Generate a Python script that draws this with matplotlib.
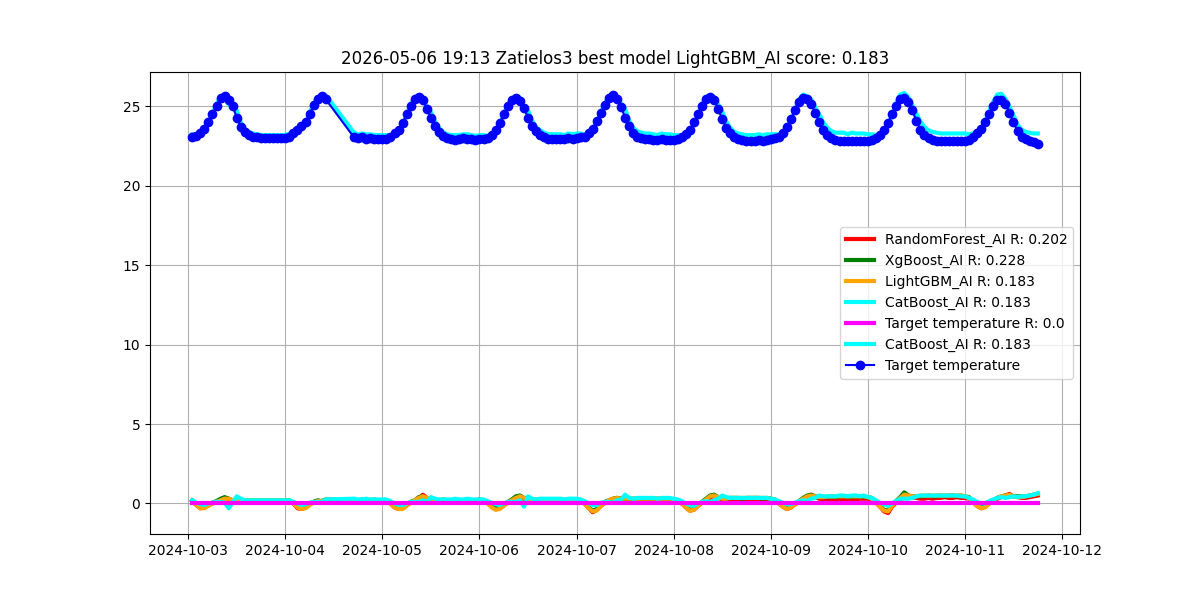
import matplotlib
matplotlib.use("Agg")
import matplotlib.pyplot as plt
import matplotlib.dates as mdates
import numpy as np
import pandas as pd

title = "2026-05-06 19:13 Zatielos3 best model LightGBM_AI score: 0.183"
seg1 = ("2024-10-03 01:00", "2024-10-04 10:00")
seg2 = ("2024-10-04 17:00", "2024-10-11 18:00")

model_names = ["RandomForest_AI", "XgBoost_AI", "LightGBM_AI", "CatBoost_AI"]
model_scores = [0.202, 0.228, 0.183, 0.183]
model_colors = ["red", "green", "orange", "cyan"]

# hourly target temperature
target = [
    23.05, 23.15, 23.35, 23.6, 24.0, 24.5, 25.05, 25.55, 25.65, 25.4, 25.0, 24.3, 23.7, 23.4, 23.2, 23.1, 23.05, 23.0, 23.0, 23.0, 23.0, 23.0, 23.0,
    23.0, 23.1, 23.3, 23.5, 23.75, 24.05, 24.5, 25.1, 25.45, 25.65, 25.45,
    23.05, 23.0, 23.05, 22.95, 23.0, 22.95, 22.95,
    22.95, 22.95, 23.05, 23.3, 23.55, 23.95, 24.5, 25.05, 25.45, 25.6, 25.4, 24.85, 24.25, 23.75, 23.4, 23.15, 23.0, 22.95, 22.9, 22.95, 23.0, 22.95, 22.95, 22.9,
    22.95, 22.95, 23.0, 23.2, 23.5, 23.95, 24.5, 25.0, 25.4, 25.55, 25.35, 24.9, 24.3, 23.8, 23.45, 23.2, 23.05, 22.95, 22.95, 22.95, 22.95, 22.95, 23.0, 22.95,
    23.0, 23.05, 23.1, 23.3, 23.6, 24.1, 24.6, 25.1, 25.55, 25.7, 25.45, 24.95, 24.3, 23.75, 23.35, 23.1, 23.0, 22.95, 22.95, 22.9, 22.9, 22.95, 22.9, 22.9,
    22.9, 22.95, 23.05, 23.25, 23.55, 24.0, 24.5, 25.05, 25.45, 25.6, 25.4, 24.85, 24.2, 23.65, 23.3, 23.05, 22.95, 22.9, 22.85, 22.85, 22.85, 22.9, 22.85, 22.9,
    22.95, 23.0, 23.1, 23.35, 23.7, 24.2, 24.75, 25.3, 25.55, 25.5, 25.15, 24.6, 24.0, 23.55, 23.2, 23.0, 22.9, 22.85, 22.85, 22.8, 22.85, 22.8, 22.85, 22.8,
    22.85, 22.9, 23.0, 23.2, 23.5, 23.95, 24.5, 25.05, 25.45, 25.55, 25.3, 24.75, 24.1, 23.55, 23.2, 23.0, 22.9, 22.85, 22.8, 22.8, 22.8, 22.8, 22.8, 22.85,
    22.85, 22.9, 23.05, 23.3, 23.6, 24.05, 24.55, 25.05, 25.4, 25.4, 25.15, 24.6, 24.0, 23.45, 23.1, 22.95, 22.85, 22.75, 22.65,
]

# prediction minus target for each model
err_rf = [
    0.15, -0.1, -0.3, -0.25, -0.1, 0.0, 0.1, 0.2, 0.35, 0.3, 0.15, 0.1, 0.1, 0.15, 0.15, 0.15, 0.15, 0.2, 0.15, 0.15, 0.15, 0.15, 0.15,
    0.15, 0.15, 0.0, -0.3, -0.35, -0.25, -0.05, 0.1, 0.15, 0.1, 0.2,
    0.15, 0.15, 0.2, 0.2, 0.15, 0.2, 0.2,
    0.2, 0.15, 0.0, -0.25, -0.35, -0.3, -0.1, 0.05, 0.15, 0.3, 0.55, 0.35, 0.2, 0.15, 0.15, 0.2, 0.2, 0.15, 0.2, 0.2, 0.2, 0.15, 0.2, 0.2,
    0.2, 0.2, 0.05, -0.2, -0.35, -0.3, -0.1, 0.05, 0.15, 0.3, 0.4, 0.3, 0.2, 0.15, 0.2, 0.2, 0.2, 0.2, 0.2, 0.2, 0.2, 0.15, 0.2, 0.2,
    0.2, 0.15, 0.0, -0.3, -0.55, -0.4, -0.15, 0.05, 0.15, 0.25, 0.35, 0.3, 0.2, 0.2, 0.2, 0.2, 0.2, 0.25, 0.2, 0.2, 0.25, 0.2, 0.2, 0.2,
    0.2, 0.2, 0.0, -0.25, -0.45, -0.4, -0.15, 0.05, 0.2, 0.35, 0.5, 0.35, 0.25, 0.25, 0.25, 0.25, 0.3, 0.25, 0.25, 0.3, 0.25, 0.3, 0.25, 0.25,
    0.25, 0.2, 0.0, -0.2, -0.35, -0.25, -0.05, 0.1, 0.25, 0.45, 0.55, 0.4, 0.3, 0.25, 0.25, 0.25, 0.25, 0.3, 0.25, 0.25, 0.3, 0.25, 0.3, 0.3,
    0.3, 0.25, 0.05, -0.2, -0.5, -0.6, -0.2, 0.05, 0.25, 0.4, 0.5, 0.4, 0.35, 0.3, 0.3, 0.35, 0.3, 0.35, 0.35, 0.4, 0.35, 0.35, 0.4, 0.35,
    0.35, 0.3, 0.1, -0.15, -0.3, -0.2, 0.0, 0.15, 0.3, 0.4, 0.5, 0.6, 0.45, 0.4, 0.35, 0.35, 0.4, 0.45, 0.5,
]
err_xgb = [
    0.2, 0.0, -0.2, -0.2, -0.05, 0.05, 0.15, 0.3, 0.4, 0.3, 0.2, 0.15, 0.15, 0.2, 0.2, 0.2, 0.2, 0.2, 0.2, 0.2, 0.2, 0.2, 0.2,
    0.2, 0.2, 0.05, -0.2, -0.3, -0.2, 0.0, 0.1, 0.2, 0.15, 0.25,
    0.2, 0.2, 0.25, 0.2, 0.2, 0.25, 0.2,
    0.2, 0.2, 0.05, -0.2, -0.3, -0.25, -0.05, 0.1, 0.2, 0.4, 0.45, 0.3, 0.2, 0.2, 0.2, 0.25, 0.2, 0.2, 0.25, 0.2, 0.2, 0.25, 0.2, 0.2,
    0.25, 0.2, 0.05, -0.15, -0.3, -0.25, -0.05, 0.1, 0.25, 0.45, 0.5, 0.35, 0.25, 0.2, 0.25, 0.25, 0.25, 0.25, 0.25, 0.25, 0.25, 0.2, 0.25, 0.25,
    0.25, 0.2, 0.05, -0.25, -0.45, -0.35, -0.1, 0.1, 0.2, 0.3, 0.35, 0.3, 0.25, 0.25, 0.3, 0.3, 0.3, 0.3, 0.3, 0.3, 0.3, 0.3, 0.3, 0.3,
    0.25, 0.2, 0.05, -0.2, -0.4, -0.35, -0.1, 0.1, 0.3, 0.5, 0.55, 0.4, 0.3, 0.3, 0.35, 0.35, 0.35, 0.3, 0.35, 0.35, 0.35, 0.35, 0.3, 0.35,
    0.3, 0.25, 0.05, -0.15, -0.3, -0.2, 0.0, 0.15, 0.35, 0.5, 0.55, 0.45, 0.4, 0.4, 0.4, 0.45, 0.4, 0.45, 0.45, 0.45, 0.4, 0.45, 0.45, 0.4,
    0.4, 0.35, 0.1, -0.15, -0.4, -0.45, -0.1, 0.15, 0.4, 0.7, 0.5, 0.45, 0.45, 0.45, 0.45, 0.5, 0.45, 0.45, 0.5, 0.45, 0.5, 0.5, 0.45, 0.5,
    0.45, 0.4, 0.15, -0.1, -0.25, -0.15, 0.05, 0.2, 0.35, 0.45, 0.5, 0.5, 0.45, 0.45, 0.45, 0.45, 0.5, 0.55, 0.6,
]
err_lgbm = [
    0.15, -0.1, -0.3, -0.3, -0.15, 0.0, 0.1, 0.2, 0.3, 0.3, 0.2, 0.15, 0.15, 0.2, 0.2, 0.2, 0.2, 0.2, 0.2, 0.2, 0.2, 0.2, 0.2,
    0.2, 0.15, 0.0, -0.25, -0.35, -0.3, -0.1, 0.05, 0.15, 0.15, 0.2,
    0.2, 0.2, 0.2, 0.2, 0.2, 0.2, 0.2,
    0.2, 0.15, 0.0, -0.25, -0.35, -0.35, -0.15, 0.05, 0.2, 0.35, 0.45, 0.35, 0.2, 0.2, 0.2, 0.2, 0.2, 0.2, 0.2, 0.2, 0.2, 0.2, 0.2, 0.2,
    0.2, 0.2, 0.0, -0.25, -0.4, -0.35, -0.15, 0.05, 0.2, 0.35, 0.45, 0.35, 0.25, 0.2, 0.25, 0.25, 0.25, 0.25, 0.25, 0.25, 0.25, 0.25, 0.25, 0.25,
    0.25, 0.2, 0.0, -0.3, -0.5, -0.45, -0.15, 0.05, 0.2, 0.3, 0.35, 0.3, 0.3, 0.3, 0.3, 0.3, 0.3, 0.3, 0.3, 0.3, 0.3, 0.3, 0.3, 0.3,
    0.25, 0.2, 0.0, -0.25, -0.45, -0.4, -0.15, 0.05, 0.25, 0.45, 0.5, 0.4, 0.3, 0.3, 0.35, 0.35, 0.35, 0.35, 0.35, 0.35, 0.35, 0.35, 0.35, 0.35,
    0.3, 0.25, 0.0, -0.2, -0.35, -0.25, -0.05, 0.15, 0.3, 0.45, 0.5, 0.45, 0.4, 0.4, 0.45, 0.45, 0.45, 0.45, 0.45, 0.45, 0.45, 0.45, 0.45, 0.45,
    0.4, 0.3, 0.05, -0.2, -0.45, -0.5, -0.15, 0.1, 0.35, 0.55, 0.5, 0.45, 0.45, 0.5, 0.5, 0.5, 0.5, 0.5, 0.5, 0.5, 0.5, 0.5, 0.5, 0.5,
    0.45, 0.35, 0.1, -0.15, -0.3, -0.25, 0.0, 0.2, 0.35, 0.45, 0.5, 0.55, 0.45, 0.4, 0.4, 0.45, 0.5, 0.55, 0.6,
]
err_cat = [
    0.2, 0.05, -0.05, -0.1, 0.0, 0.05, 0.1, 0.1, 0.05, -0.3, 0.05, 0.45, 0.3, 0.2, 0.2, 0.2, 0.2, 0.2, 0.2, 0.2, 0.2, 0.2, 0.2,
    0.2, 0.2, 0.1, 0.0, -0.1, -0.05, 0.05, 0.1, 0.1, 0.1, 0.25,
    0.3, 0.25, 0.25, 0.3, 0.25, 0.25, 0.25,
    0.25, 0.25, 0.15, 0.0, -0.1, -0.1, 0.0, 0.1, 0.1, 0.1, 0.2, 0.1, 0.4, 0.3, 0.25, 0.25, 0.25, 0.25, 0.3, 0.25, 0.25, 0.3, 0.25, 0.25,
    0.25, 0.25, 0.15, 0.05, -0.05, -0.1, 0.0, 0.1, 0.1, 0.1, 0.2, -0.2, 0.45, 0.3, 0.25, 0.3, 0.3, 0.3, 0.3, 0.3, 0.3, 0.25, 0.3, 0.3,
    0.3, 0.25, 0.15, 0.0, -0.1, -0.1, 0.05, 0.1, 0.1, 0.05, 0.2, 0.25, 0.55, 0.35, 0.3, 0.35, 0.35, 0.35, 0.35, 0.35, 0.3, 0.35, 0.35, 0.35,
    0.3, 0.25, 0.15, 0.0, -0.1, -0.15, 0.0, 0.1, 0.15, 0.1, 0.2, 0.3, 0.5, 0.4, 0.35, 0.35, 0.35, 0.35, 0.35, 0.35, 0.35, 0.35, 0.35, 0.35,
    0.3, 0.25, 0.15, 0.05, -0.05, -0.05, 0.05, 0.15, 0.2, 0.15, 0.3, 0.35, 0.5, 0.45, 0.45, 0.45, 0.45, 0.5, 0.5, 0.45, 0.5, 0.5, 0.45, 0.5,
    0.4, 0.35, 0.2, 0.05, -0.05, -0.15, 0.0, 0.15, 0.3, 0.3, 0.3, 0.35, 0.45, 0.5, 0.5, 0.5, 0.5, 0.5, 0.5, 0.5, 0.5, 0.5, 0.5, 0.45,
    0.45, 0.35, 0.25, 0.1, 0.0, 0.0, 0.15, 0.25, 0.35, 0.4, 0.35, 0.4, 0.45, 0.4, 0.45, 0.45, 0.5, 0.55, 0.65,
]

times = pd.date_range(*seg1, freq="h").append(pd.date_range(*seg2, freq="h"))
target_arr = np.array(target)
errors = [np.array(e) for e in (err_rf, err_xgb, err_lgbm, err_cat)]
for e in errors:
    assert len(e) == len(times), (len(e), len(times))
assert len(target_arr) == len(times)

fig, ax = plt.subplots(figsize=(12, 6), dpi=100)
for name, score, color, err in zip(model_names, model_scores, model_colors, errors):
    ax.plot(times, err, color=color, lw=3, label=f"{name} R: {score}")
ax.plot(times, target_arr - target_arr, color="magenta", lw=3, label="Target temperature R: 0.0")
ax.plot(times, target_arr + errors[3], color="cyan", lw=3, label=f"{model_names[3]} R: {model_scores[3]}")
ax.plot(times, target_arr, color="blue", marker="o", lw=1.5, label="Target temperature")

ax.xaxis.set_major_locator(mdates.DayLocator())
ax.xaxis.set_major_formatter(mdates.DateFormatter("%Y-%m-%d"))
ax.grid(True)
ax.set_title(title)
ax.legend(loc="center right")
fig.savefig("out.png", dpi=100)
